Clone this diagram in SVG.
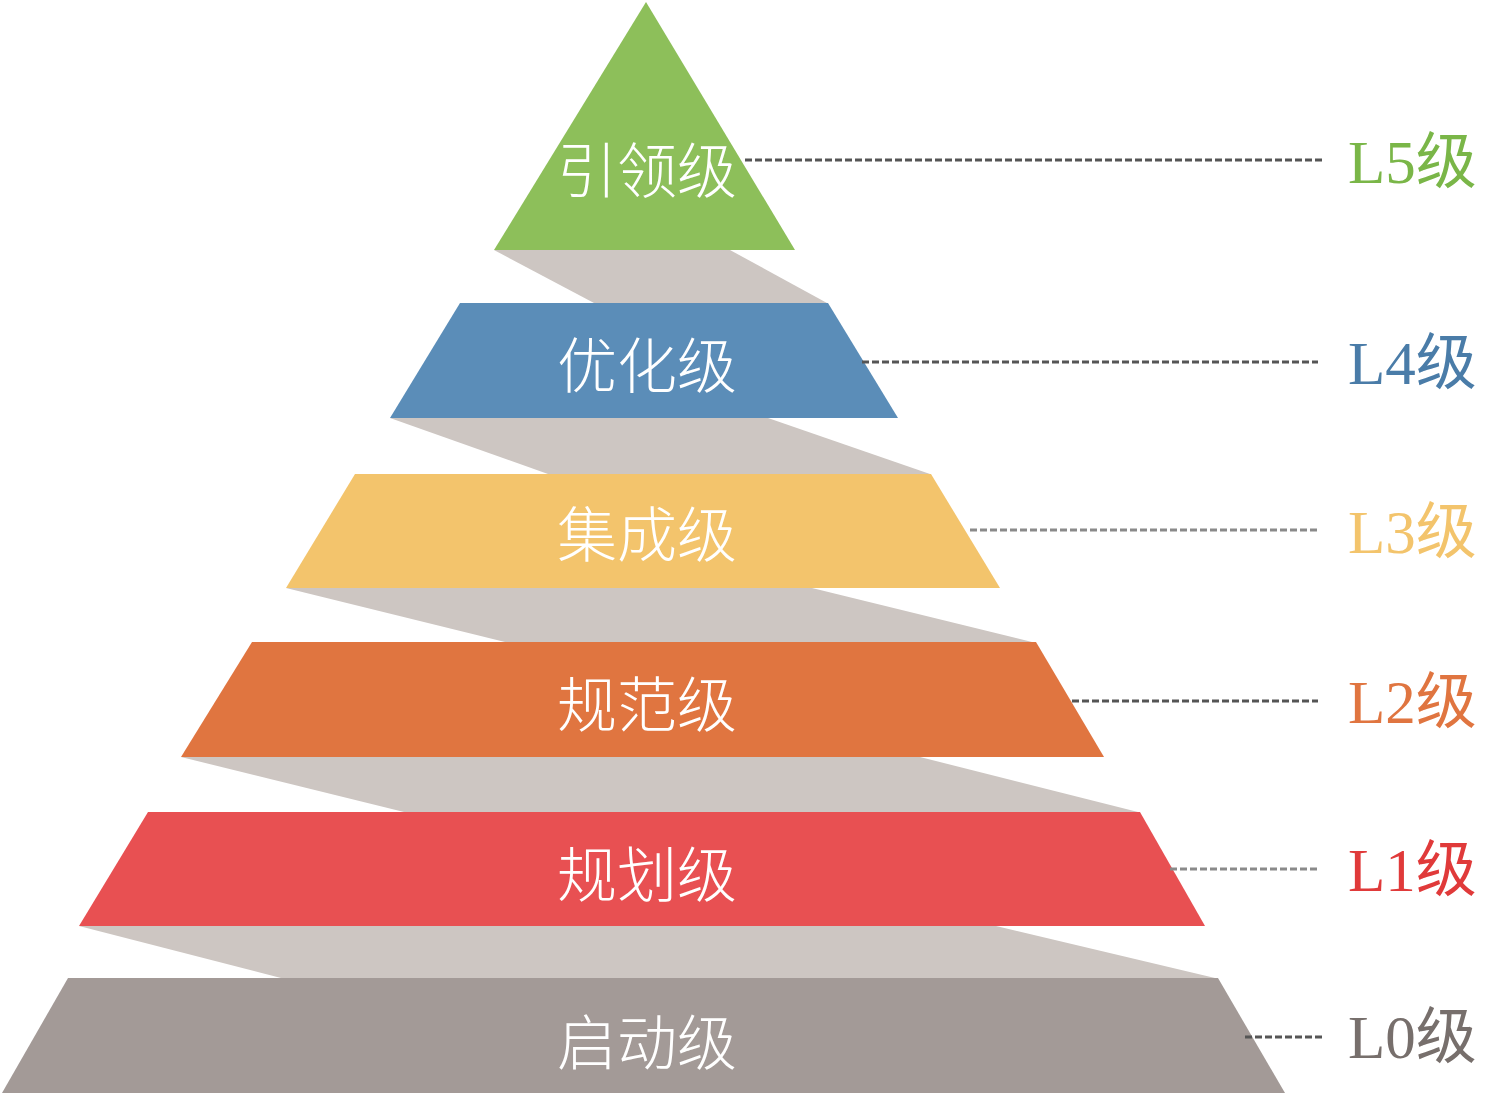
<svg xmlns="http://www.w3.org/2000/svg" width="1506" height="1116" viewBox="0 0 1506 1116">
<style>
.band{fill:#cdc6c2}
.tier-text{font-family:"Noto Sans CJK SC","Noto Sans",sans-serif;font-size:60px;font-weight:300;fill:#ffffff;text-anchor:middle;dominant-baseline:central}
.lvl{font-family:"Liberation Serif","Noto Sans CJK SC",serif;font-size:61px}
.dash{stroke-width:3;stroke-dasharray:7 3;fill:none}
</style>
<rect width="1506" height="1116" fill="#ffffff"/>
<g id="bands">
<polygon class="band" points="494,250 730,250 827,303 594,303"/>
<polygon class="band" points="390,418 768,418 930,474 548,474"/>
<polygon class="band" points="286,588 812,588 1032,642 505,642"/>
<polygon class="band" points="181,757 920,757 1138,812 404,812"/>
<polygon class="band" points="79,926 996,926 1215,978 281,978"/>
</g>
<g id="L5">
<polygon points="646,2 795,250 494,250" fill="#8dbf5a"/>
<text class="tier-text" x="647" y="166">引领级</text>
</g>
<g id="L4">
<polygon points="460,303 828,303 898,418 390,418" fill="#5b8db8"/>
<text class="tier-text" x="647" y="361">优化级</text>
</g>
<g id="L3">
<polygon points="355,474 931,474 1000,588 286,588" fill="#f3c46c"/>
<text class="tier-text" x="647" y="530">集成级</text>
</g>
<g id="L2">
<polygon points="252,642 1036,642 1104,757 181,757" fill="#e07540"/>
<text class="tier-text" x="647" y="700">规范级</text>
</g>
<g id="L1">
<polygon points="148,812 1140,812 1205,926 79,926" fill="#e85052"/>
<text class="tier-text" x="647" y="870">规划级</text>
</g>
<g id="L0">
<polygon points="68,978 1218,978 1285,1093 2,1093" fill="#a39a97"/>
<text class="tier-text" x="647" y="1038">启动级</text>
</g>
<g id="connectors">
<line class="dash" x1="745" y1="160" x2="1325" y2="160" stroke="#555555"/>
<line class="dash" x1="862" y1="362" x2="1318" y2="362" stroke="#555555"/>
<line class="dash" x1="970" y1="530" x2="1318" y2="530" stroke="#8a8a8a"/>
<line class="dash" x1="1072" y1="701" x2="1318" y2="701" stroke="#555555"/>
<line class="dash" x1="1170" y1="869" x2="1318" y2="869" stroke="#8a8a8a"/>
<line class="dash" x1="1245" y1="1037" x2="1325" y2="1037" stroke="#555555"/>
</g>
<g id="labels">
<text class="lvl" x="1348" y="183" fill="#7ab648">L5级</text>
<text class="lvl" x="1348" y="384" fill="#4a7ca8">L4级</text>
<text class="lvl" x="1348" y="553" fill="#f3c46c">L3级</text>
<text class="lvl" x="1348" y="723" fill="#e07540">L2级</text>
<text class="lvl" x="1348" y="891" fill="#e03a3a">L1级</text>
<text class="lvl" x="1348" y="1058" fill="#776f6c">L0级</text>
</g>
</svg>
